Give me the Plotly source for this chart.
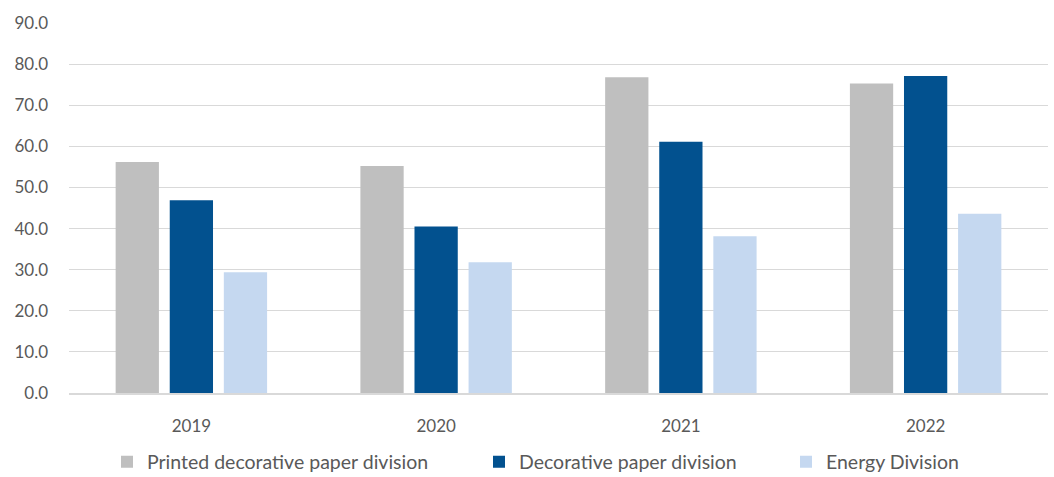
import plotly.graph_objects as go

years = ["2019", "2020", "2021", "2022"]
printed_decorative = [56.2, 55.2, 76.8, 75.3]
decorative_paper = [46.9, 40.5, 61.1, 77.1]
energy_division = [29.4, 31.8, 38.1, 43.6]

series_names = ["Printed decorative paper division", "Decorative paper division", "Energy Division"]
series_colors = ["#BFBFBF", "#02518F", "#C5D8F0"]
series_values = [printed_decorative, decorative_paper, energy_division]
legend_ids = ["legend", "legend2", "legend3"]

FONT = "Lato"
TEXT_COLOR = "#595959"

fig = go.Figure()
for name, color, vals, lg in zip(series_names, series_colors, series_values, legend_ids):
    fig.add_trace(go.Bar(x=years, y=vals, name=name, marker=dict(color=color, line=dict(width=0)),
                         legend=lg, showlegend=True))

W, H = 1054, 477
ml, mr, mt, mb = 69, 6, 23, 84
pw = W - ml - mr
ph = H - mt - mb

def lx(px):
    return (px - ml) / pw

legend_y = -(462 - (H - mb)) / ph
legend_style = dict(orientation="h", yanchor="middle", y=legend_y, xanchor="left",
                    font=dict(family=FONT, size=19.5, color=TEXT_COLOR), bgcolor="rgba(0,0,0,0)")

fig.update_layout(
    width=W, height=H,
    margin=dict(l=ml, r=mr, t=mt, b=mb, autoexpand=False),
    paper_bgcolor="white", plot_bgcolor="white",
    showlegend=True,
    barmode="group", bargap=0.337, bargroupgap=0.2,
    font=dict(family=FONT, color=TEXT_COLOR),
    legend=dict(x=lx(107), **legend_style),
    legend2=dict(x=lx(479), **legend_style),
    legend3=dict(x=lx(786), **legend_style),
    xaxis=dict(showgrid=False, showline=True, linecolor="#D9D9D9", linewidth=1.5,
               ticks="", tickfont=dict(family=FONT, size=17, color=TEXT_COLOR),
               ticklabelstandoff=17),
    yaxis=dict(range=[0, 90], dtick=10, tickformat=".1f", showgrid=True,
               gridcolor="#D9D9D9", gridwidth=1.3, zeroline=False, ticks="",
               tickfont=dict(family=FONT, size=17, color=TEXT_COLOR),
               ticklabelstandoff=20),
)

fig.write_html("out.html")
